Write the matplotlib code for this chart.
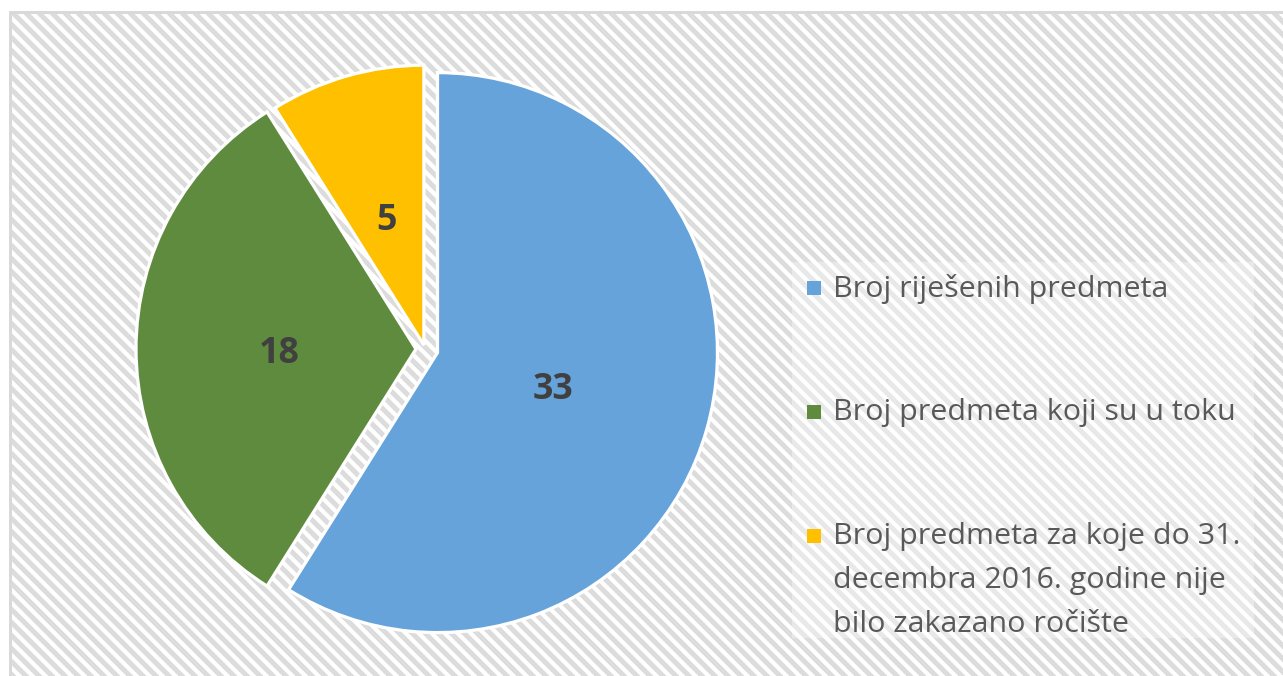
import matplotlib
matplotlib.use("Agg")
import matplotlib.pyplot as plt
import numpy as np
from matplotlib.patches import Rectangle

# ---- data ----
labels = [
    "Broj riješenih predmeta",
    "Broj predmeta koji su u toku",
    "Broj predmeta za koje do 31.\ndecembra 2016. godine nije\nbilo zakazano ročište",
]
values = [33, 18, 5]
colors = ["#65A3DA", "#5F8B3E", "#FFC000"]

# style
explode_px = [13, 9, 4]
label_dist = [0.43, 0.49, 0.48]

W, H = 1284, 676
DPI = 156
plt.rcParams["hatch.linewidth"] = 2.3
plt.rcParams["font.family"] = ["Open Sans", "DejaVu Sans"]

fig = plt.figure(figsize=(W / DPI, H / DPI), dpi=DPI, facecolor="white")
ax = fig.add_axes([0, 0, 1, 1])

# background: gray frame + hatched chart area
ax.add_patch(Rectangle((9, -5), W, H - 11 + 5, facecolor="#d9d9d9",
                       edgecolor="none", zorder=0))
ax.add_patch(Rectangle((12, -5), W, H - 14 + 5, facecolor="white",
                       edgecolor="#dcdcdc", linewidth=0, hatch="\\\\\\\\", zorder=0.5))
# legend backdrop
ax.add_patch(Rectangle((792, H - 638), 1254 - 792, 638 - 262, facecolor="white",
                       edgecolor="none", alpha=0.35, zorder=0.8))

cx, cy, R = 425, H - 349, 280
wedges, texts, autotexts = ax.pie(
    values, colors=colors, startangle=90, counterclock=False,
    explode=explode_px, center=(cx, cy), radius=R,
    autopct=lambda p: f"{round(p * sum(values) / 100):d}", pctdistance=0.45,
    wedgeprops=dict(edgecolor="white", linewidth=1.5),
    textprops=dict(color="#404040", fontsize=16.5, fontweight="bold"),
    frame=True,
)
ax.set_xlim(0, W)
ax.set_ylim(0, H)
ax.set_aspect("equal")
ax.axis("off")
for w, t, d in zip(wedges, autotexts, label_dist):
    w.set_zorder(2)
    th = np.deg2rad(0.5 * (w.theta1 + w.theta2))
    wx, wy = w.center
    t.set_position((wx + d * R * np.cos(th), wy + d * R * np.sin(th)))
    t.set_verticalalignment("center_baseline")
    t.set_zorder(3)

# legend (manual)
ys = [288, 412, 536]
for lab, col, y in zip(labels, colors, ys):
    ax.add_patch(Rectangle((807, H - y - 7), 14, 14, facecolor=col,
                           edgecolor="none", zorder=3))
    ax.text(833, H - y + 14, lab, ha="left", va="top", fontsize=14,
            color="#595959", linespacing=1.68, zorder=3)

fig.savefig("out.png", dpi=DPI, facecolor="white")
